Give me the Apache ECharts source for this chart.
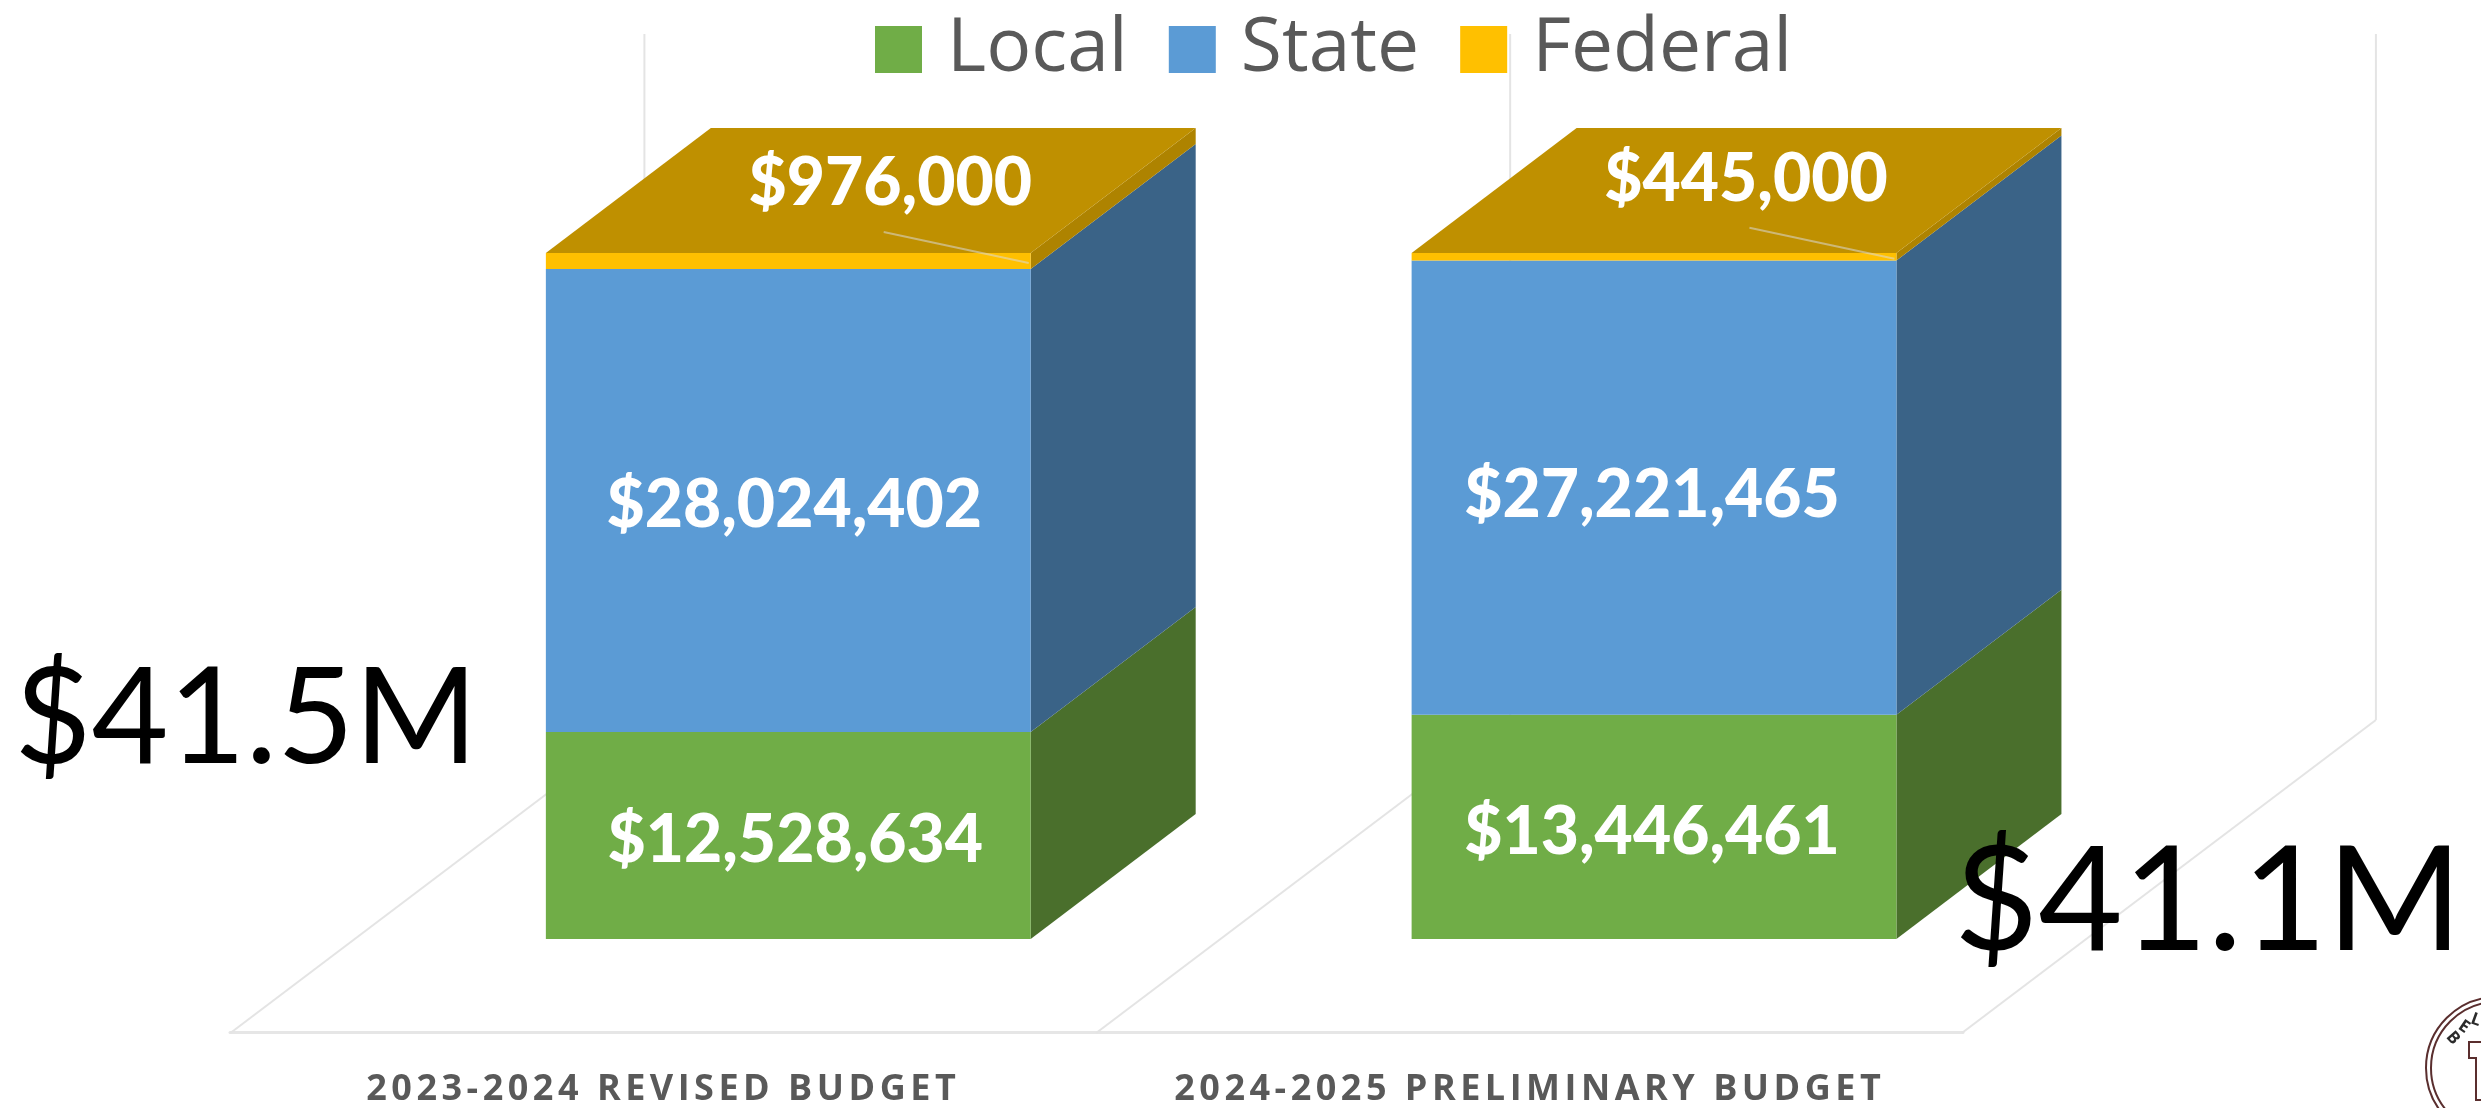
<!DOCTYPE html>
<html>
<head>
<meta charset="utf-8">
<style>html,body{margin:0;padding:0;background:#fff}#main{width:2481px;height:1108px}</style>
<script src="https://cdn.jsdelivr.net/npm/echarts@6/dist/echarts.min.js"></script>
</head>
<body>
<div id="main"></div>
<script>
const categories = ['2023-2024 REVISED BUDGET', '2024-2025 PRELIMINARY BUDGET'];
const localValues = [12528634, 13446461];
const stateValues = [28024402, 27221465];
const federalValues = [976000, 445000];
const totalLabels = ['$41.5M', '$41.1M'];
const seriesNames = ['Local', 'State', 'Federal'];

const FRONT = ['#70AD47', '#5B9BD5', '#FFC000'];
const SIDE = ['#4A6F2C', '#3A6387', '#AE8300'];
const TOP = '#BF9000';
const CAT_FONT = 'Open Sans';
const LABEL_FONT = 'Lato';

// 3-D look: pixel offsets of the bar's depth and of the chart floor
const DEPTH = [165, -125];
const FLOOR_FRONT = [-125, 94];
const FLOOR_BACK = [289, -219];
const WALL = '#E4E4E4';

// label offsets from each bar segment's centre [x, y]
const localOffsets = [[7, 5], [-2, 6]];
const stateOffsets = [[6, 5], [-2, 8]];
const federalOffsets = [[102, -77], [92, -77]];

// the category labels are letter-spaced in the reference
const nativeFillText = CanvasRenderingContext2D.prototype.fillText;
CanvasRenderingContext2D.prototype.fillText = function (text, x, y, w) {
  const spaced = categories.indexOf(text) >= 0;
  if (spaced) this.letterSpacing = '4.5px';
  const out = w === undefined ? nativeFillText.call(this, text, x, y) : nativeFillText.call(this, text, x, y, w);
  if (spaced) this.letterSpacing = '0px';
  return out;
};

const totals = categories.map((_, i) => localValues[i] + stateValues[i] + federalValues[i]);
const share = (arr) => arr.map((v, i) => v / totals[i]);
const money = (v) => '$' + v.toLocaleString('en-US');

function barSeries(idx, values, offsets) {
  return {
    name: seriesNames[idx], type: 'bar', stack: 'budget', xAxisIndex: 1, yAxisIndex: 1,
    barWidth: '56%', z: 3,
    itemStyle: { color: FRONT[idx] },
    data: share(values).map((s, i) => ({
      value: s,
      label: {
        show: true, position: 'inside', offset: offsets[i], formatter: money(values[i]),
        color: '#fff', fontFamily: LABEL_FONT, fontWeight: 900, fontSize: 66
      }
    }))
  };
}

const cumulative = categories.map((_, i) => {
  const a = localValues[i] / totals[i], b = stateValues[i] / totals[i];
  return [i, 0, a, a + b, 1];
});

function renderSolid(params, api) {
  const half = api.size([1, 0])[0] * 0.28;
  const cx = api.coord([api.value(0), 0])[0];
  const l = cx - half, r = cx + half;
  const ys = [1, 2, 3, 4].map(k => api.coord([api.value(0), api.value(k)])[1]);
  const children = [];
  for (let k = 0; k < 3; k++) {
    children.push({
      type: 'polygon',
      shape: { points: [[r, ys[k]], [r + DEPTH[0], ys[k] + DEPTH[1]], [r + DEPTH[0], ys[k + 1] + DEPTH[1]], [r, ys[k + 1]]] },
      style: { fill: SIDE[k] }
    });
  }
  const t = ys[3];
  children.push({
    type: 'polygon',
    shape: { points: [[l, t], [l + DEPTH[0], t + DEPTH[1]], [r + DEPTH[0], t + DEPTH[1]], [r, t]] },
    style: { fill: TOP }
  });
  return { type: 'group', children };
}

function renderLeader(params, api) {
  const half = api.size([1, 0])[0] * 0.28;
  const cx = api.coord([api.value(0), 0])[0];
  const r = cx + half;
  const mid = (api.coord([api.value(0), api.value(3)])[1] + api.coord([api.value(0), api.value(4)])[1]) / 2;
  return {
    type: 'line',
    shape: { x1: r - 147, y1: mid - 29, x2: r - 2, y2: mid + 2 },
    style: { stroke: 'rgba(217,217,217,0.55)', lineWidth: 2 }
  };
}

function renderFrame(params, api) {
  const band = api.size([1, 0])[0];
  const cx = api.coord([api.value(0), 0])[0];
  const y0 = api.coord([api.value(0), 0])[1];
  const y1 = api.coord([api.value(0), 1])[1];
  const edges = [cx - band / 2];
  if (api.value(0) === categories.length - 1) edges.push(cx + band / 2);
  const children = [];
  edges.forEach(x => {
    children.push({
      type: 'line',
      shape: { x1: x + FLOOR_FRONT[0], y1: y0 + FLOOR_FRONT[1], x2: x + FLOOR_BACK[0], y2: y0 + FLOOR_BACK[1] },
      style: { stroke: WALL, lineWidth: 2 }
    });
    children.push({
      type: 'line',
      shape: { x1: x + FLOOR_BACK[0], y1: y0 + FLOOR_BACK[1], x2: x + FLOOR_BACK[0], y2: y1 + FLOOR_BACK[1] },
      style: { stroke: WALL, lineWidth: 2 }
    });
  });
  return { type: 'group', children };
}

function logoLetter(ch, x, y, rot) {
  return { type: 'text', x, y, rotation: rot, z: 20,
    style: { text: ch, fill: '#2B2B2B', font: 'bold 17px "Open Sans"', align: 'center', verticalAlign: 'middle' } };
}

const chart = echarts.init(document.getElementById('main'), null, { renderer: 'canvas' });
chart.setOption({
  animation: false,
  backgroundColor: '#ffffff',
  legend: {
    data: seriesNames, left: 870, top: 7, itemWidth: 47, itemHeight: 47, itemGap: 41,
    icon: 'rect', selectedMode: false,
    textStyle: { color: '#595959', fontFamily: 'Open Sans', fontSize: 75, lineHeight: 72, padding: [0, 0, 0, 20] }
  },
  grid: [
    { left: 230, width: 1733, top: 1000, height: 33 },
    { left: 355.4, width: 1731.5, top: 253, height: 686 }
  ],
  xAxis: [
    { type: 'category', gridIndex: 0, data: categories,
      axisLine: { show: true, lineStyle: { color: '#E6E6E6', width: 3 } }, axisTick: { show: false },
      axisLabel: { margin: 40, color: '#595959', fontFamily: CAT_FONT, fontWeight: 'bold', fontSize: 36, interval: 0 } },
    { type: 'category', gridIndex: 1, data: categories, show: false }
  ],
  yAxis: [
    { type: 'value', gridIndex: 0, min: 0, max: 1, show: false },
    { type: 'value', gridIndex: 1, min: 0, max: 1, show: false }
  ],
  series: [
    { type: 'custom', xAxisIndex: 1, yAxisIndex: 1, z: 1, silent: true, renderItem: renderFrame,
      data: cumulative, encode: { x: 0, y: [1, 2, 3, 4] } },
    { type: 'custom', xAxisIndex: 1, yAxisIndex: 1, z: 2, silent: true, renderItem: renderSolid,
      data: cumulative, encode: { x: 0, y: [1, 2, 3, 4] } },
    barSeries(0, localValues, localOffsets),
    barSeries(1, stateValues, stateOffsets),
    barSeries(2, federalValues, federalOffsets),
    { type: 'custom', xAxisIndex: 1, yAxisIndex: 1, z: 4, silent: true, renderItem: renderLeader,
      data: cumulative, encode: { x: 0, y: [1, 2, 3, 4] } }
  ],
  graphic: [
    { type: 'text', x: 246, y: 720, z: 30, style: { text: totalLabels[0], fill: '#000', font: '133px Lato', align: 'center', verticalAlign: 'middle' } },
    { type: 'text', x: 2208, y: 903, z: 30, style: { text: totalLabels[1], fill: '#000', font: '146px Lato', align: 'center', verticalAlign: 'middle' } },
    { type: 'circle', z: 20, shape: { cx: 2497, cy: 1068, r: 71 }, style: { fill: 'none', stroke: '#5A2E2E', lineWidth: 2 } },
    { type: 'circle', z: 20, shape: { cx: 2497, cy: 1068, r: 66 }, style: { fill: 'none', stroke: '#5A2E2E', lineWidth: 2 } },
    logoLetter('B', 2453, 1038, -0.85),
    logoLetter('E', 2464, 1027, -0.6),
    logoLetter('L', 2476, 1020, -0.35),
    { type: 'polyline', z: 20, shape: { points: [[2481, 1042], [2469, 1042], [2469, 1058], [2476, 1058], [2476, 1100], [2481, 1100]] },
      style: { fill: 'none', stroke: '#5A2E2E', lineWidth: 2 } }
  ]
});
</script>
</body>
</html>
